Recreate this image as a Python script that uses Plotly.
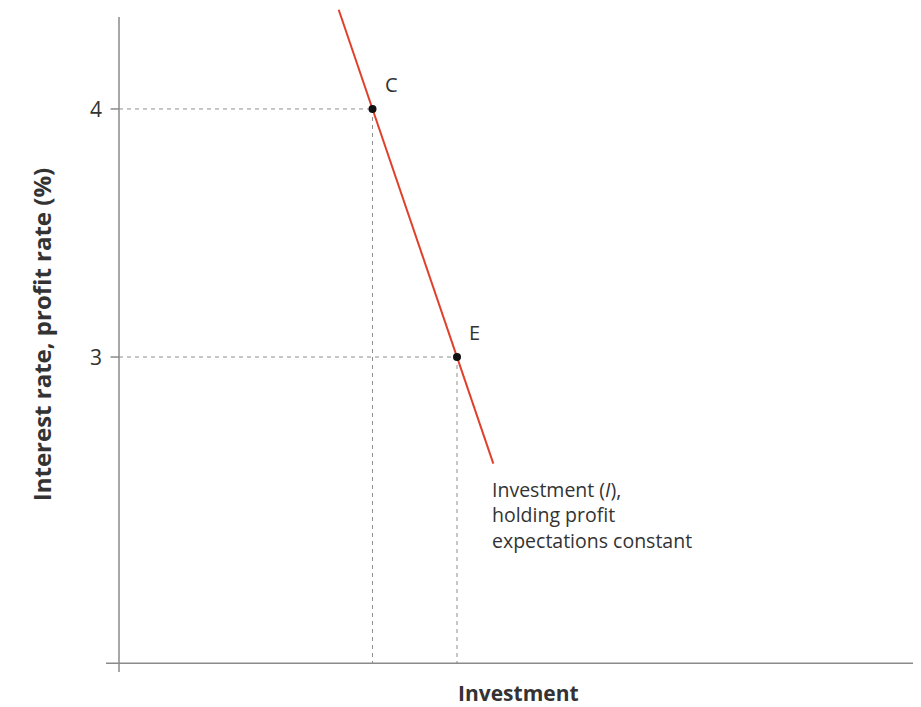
import plotly.graph_objects as go

# Data
line_investment = [2.60, 4.43]
line_rate = [4.40, 2.57]
point_labels = ["C", "E"]
point_investment = [3, 4]
point_rate = [4, 3]
y_tick_vals = [3, 4]
y_tick_text = ["3", "4"]
curve_label = "Investment (<i>I</i>),<br>holding profit<br>expectations constant"

X_MIN, X_MAX = -0.154, 9.456
Y_MIN, Y_MAX = 1.698, 4.407
AX_Y = 1.766      # x-axis position
AX_TOP = 4.371    # y-axis top
AX_EXT = 1.730    # y-axis extends below x-axis

FONT = "Open Sans, Noto Sans, DejaVu Sans, sans-serif"
GREY = "#8a8a8a"
DASH = "#8f8f8f"

fig = go.Figure()

# Dashed guide lines
for xi, yi in zip(point_investment, point_rate):
    fig.add_trace(go.Scatter(x=[0, xi], y=[yi, yi], mode="lines",
                             line=dict(color=DASH, width=1, dash="4px,4px"),
                             hoverinfo="skip", showlegend=False))
    fig.add_trace(go.Scatter(x=[xi, xi], y=[yi, AX_Y], mode="lines",
                             line=dict(color=DASH, width=1, dash="4px,4px"),
                             hoverinfo="skip", showlegend=False))

# Axis lines
fig.add_trace(go.Scatter(x=[0, 0], y=[AX_EXT, AX_TOP], mode="lines",
                         line=dict(color=GREY, width=1.5), hoverinfo="skip", showlegend=False))
fig.add_trace(go.Scatter(x=[X_MIN, X_MAX], y=[AX_Y, AX_Y], mode="lines",
                         line=dict(color=GREY, width=1.5), hoverinfo="skip", showlegend=False))
# Y ticks
for v in y_tick_vals:
    fig.add_trace(go.Scatter(x=[-0.1, 0], y=[v, v], mode="lines",
                             line=dict(color=GREY, width=1.5), hoverinfo="skip", showlegend=False))

# Investment curve
fig.add_trace(go.Scatter(x=line_investment, y=line_rate, mode="lines",
                         line=dict(color="#e0402a", width=2), showlegend=False))

# Points
fig.add_trace(go.Scatter(x=point_investment, y=point_rate, mode="markers",
                         marker=dict(color="#111111", size=8), showlegend=False))

for lab, xi, yi in zip(point_labels, point_investment, point_rate):
    fig.add_annotation(x=xi, y=yi, text=lab, showarrow=False,
                       xanchor="left", yanchor="bottom", xshift=10, yshift=9,
                       font=dict(family=FONT, size=20, color="#333333"))

for v, t in zip(y_tick_vals, y_tick_text):
    fig.add_annotation(x=0, y=v, text=t, showarrow=False, xanchor="right",
                       xshift=-15, font=dict(family=FONT, size=21, color="#333333"))

fig.add_annotation(x=line_investment[1], y=line_rate[1], text=curve_label, showarrow=False,
                   xanchor="left", yanchor="top", align="left", xshift=-3, yshift=-10,
                   font=dict(family=FONT, size=19.5, color="#333333"))

# Axis titles
fig.add_annotation(x=4.73, xref="x", y=0, yref="paper", text="<b>Investment</b>",
                   showarrow=False, yanchor="top", yshift=3,
                   font=dict(family=FONT, size=21, color="#333333"))
fig.add_annotation(x=0, xref="paper", y=3.09, yref="y", text="<b>Interest rate, profit rate (%)</b>",
                   showarrow=False, textangle=-90, xanchor="right", xshift=-46,
                   font=dict(family=FONT, size=24, color="#333333"))

fig.update_xaxes(range=[X_MIN, X_MAX], visible=False, fixedrange=True)
fig.update_yaxes(range=[Y_MIN, Y_MAX], visible=False, fixedrange=True)
fig.update_layout(width=913, height=699, margin=dict(l=98, r=3, t=0, b=27),
                  plot_bgcolor="white", paper_bgcolor="white")

fig.write_html("out.html")
